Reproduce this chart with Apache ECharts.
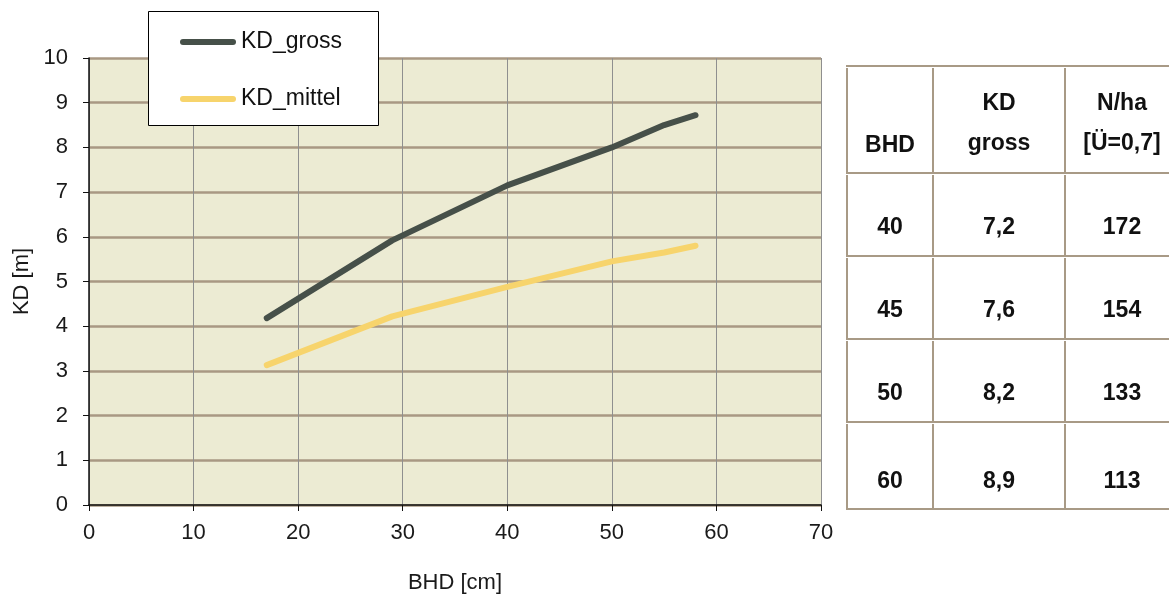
<!DOCTYPE html>
<html lang="de">
<head>
    <meta charset="UTF-8">
    <title>KD nach BHD</title>
    <script src="https://cdn.jsdelivr.net/npm/echarts@6/dist/echarts.min.js"></script>
</head>
<body style="margin:0;background:#fff;">
<div id="main" style="width: 1169px;height: 596px;"></div>

<script type="text/javascript">
    // Kurven: BHD [cm] -> KD [m]
    var bhdGross = [17, 29, 40, 50, 55, 58];
    var kdGross = [4.18, 5.92, 7.15, 8.0, 8.5, 8.72];
    var bhdMittel = [17, 29, 40, 50, 55, 58];
    var kdMittel = [3.13, 4.22, 4.88, 5.45, 5.65, 5.8];

    // Tabelle rechts
    var tabHeader = [['BHD'], ['KD', 'gross'], ['N/ha', '[Ü=0,7]']];
    var tabBHD = ['40', '45', '50', '60'];
    var tabKD = ['7,2', '7,6', '8,2', '8,9'];
    var tabN = ['172', '154', '133', '113'];

    function pairs(xs, ys) {
        return xs.map(function (x, i) { return [x, ys[i]]; });
    }

    var myChart = echarts.init(document.getElementById('main'));

    // Tabelle als graphic-Elemente
    var lineCol = '#A89A86';
    var colX = [847, 933, 1065];
    var rowY = [66, 173, 256, 339, 422, 509];
    var colMid = [890, 999, 1122];
    var els = [];
    rowY.forEach(function (y) {
        els.push({type: 'line', shape: {x1: 846, y1: y, x2: 1169, y2: y},
            style: {stroke: lineCol, lineWidth: 2}});
    });
    // senkrechte Linien je Zeile, mit kleinen Luecken wie im Original
    colX.forEach(function (x) {
        for (var r = 0; r < rowY.length - 1; r++) {
            els.push({type: 'line', shape: {x1: x, y1: rowY[r] + 2, x2: x, y2: rowY[r + 1] - 1},
                style: {stroke: lineCol, lineWidth: 2}});
        }
    });
    var cellText = function (t, x, y) {
        return {type: 'text', x: x, y: y, style: {text: t, fill: '#111',
            font: 'bold 23px "Liberation Sans", Arial, sans-serif',
            textAlign: 'center', textVerticalAlign: 'middle'}};
    };
    tabHeader.forEach(function (h, c) {
        if (h.length === 1) {
            els.push(cellText(h[0], colMid[c], 146));
        } else {
            els.push(cellText(h[0], colMid[c], 104));
            els.push(cellText(h[1], colMid[c], 144));
        }
    });
    var rowTextY = [228, 311, 394, 482];
    [tabBHD, tabKD, tabN].forEach(function (col, c) {
        col.forEach(function (t, r) {
            els.push(cellText(t, colMid[c], rowTextY[r]));
        });
    });

    // Legendenkasten
    els.push({type: 'rect', z: 50, shape: {x: 148.5, y: 11.5, width: 230, height: 114},
        style: {fill: '#fff', stroke: '#000', lineWidth: 1}});

    var fontFam = '"Liberation Sans", Arial, sans-serif';
    var axisFont = {color: '#1a1a1a', fontSize: 22, fontFamily: fontFam};
    var legendIcon = 'path://M3,0 L53,0 A3,3 0 0 1 53,6 L3,6 A3,3 0 0 1 3,0 Z';

    var option = {
        animation: false,
        backgroundColor: '#fff',
        textStyle: {fontFamily: fontFam},
        grid: {
            left: 89, right: 348, top: 58, bottom: 91,
            outerBoundsMode: 'none', containLabel: false,
            show: true, backgroundColor: '#ECEBD3', borderWidth: 0
        },
        legend: {
            orient: 'vertical',
            left: 148, top: 13,
            padding: [17, 0, 0, 32],
            itemWidth: 56, itemHeight: 7, itemGap: 33,
            z: 60,
            textStyle: {color: '#111', fontSize: 23, lineHeight: 24},
            data: [
                {name: 'KD_gross', icon: legendIcon},
                {name: 'KD_mittel', icon: legendIcon}
            ]
        },
        graphic: {elements: els},
        xAxis: {
            type: 'value', min: 0, max: 70, interval: 10,
            name: 'BHD [cm]', nameLocation: 'middle', nameGap: 67,
            nameTextStyle: axisFont,
            axisLine: {lineStyle: {color: '#111', width: 1.5}},
            axisTick: {show: true, length: 6, lineStyle: {color: '#111'}},
            axisLabel: Object.assign({margin: 17}, axisFont),
            splitLine: {show: true, lineStyle: {color: '#8f8f8f', width: 1}}
        },
        yAxis: {
            type: 'value', min: 0, max: 10, interval: 1,
            name: 'KD [m]', nameLocation: 'middle', nameGap: 55,
            nameTextStyle: axisFont,
            axisLine: {show: true, lineStyle: {color: '#111', width: 1.5}},
            axisTick: {show: true, length: 6, lineStyle: {color: '#111'}},
            axisLabel: Object.assign({margin: 21}, axisFont),
            splitLine: {show: true, lineStyle: {color: '#A99883', width: 2.5}}
        },
        series: [
            {
                name: 'KD_gross', type: 'line', symbol: 'none',
                data: pairs(bhdGross, kdGross),
                lineStyle: {color: '#465049', width: 6, cap: 'round'},
                itemStyle: {color: '#465049'}
            },
            {
                name: 'KD_mittel', type: 'line', symbol: 'none',
                data: pairs(bhdMittel, kdMittel),
                lineStyle: {color: '#F7D46C', width: 6, cap: 'round'},
                itemStyle: {color: '#F7D46C'}
            }
        ]
    };

    myChart.setOption(option);
</script>
</body>
</html>
